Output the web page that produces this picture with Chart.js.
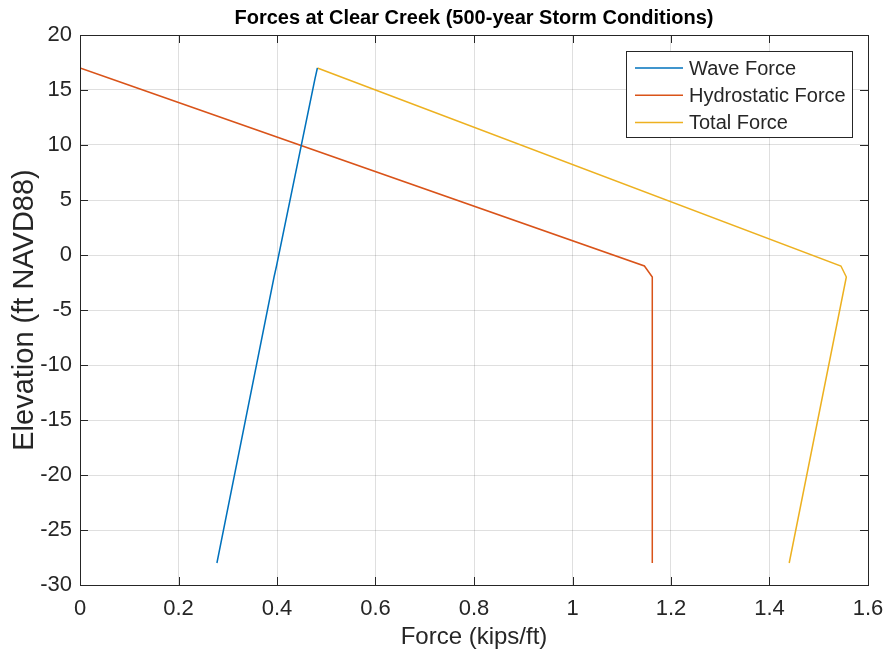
<!DOCTYPE html>
<html><head><meta charset="utf-8">
<script src="https://cdn.jsdelivr.net/npm/chart.js@4/dist/chart.umd.min.js"></script>
<style>html,body{margin:0;padding:0;background:#fff}#wrap{width:885px;height:658px}</style>
</head><body><div id="wrap"><canvas id="c" width="885" height="658"></canvas></div>
<script>
const elevation = [17, 16, -1, -2, -28];
const waveForce = [0.482, 0.477, 0.399, 0.394, 0.278];
const hydrostaticForce = [0, 0.064, 1.146, 1.162, 1.162];
const totalForce = [0.482, 0.541, 1.545, 1.556, 1.440];
const seriesNames = ['Wave Force', 'Hydrostatic Force', 'Total Force'];
const seriesColors = ['#0072BD', '#D95319', '#EDB120'];
const xTicks = [0, 0.2, 0.4, 0.6, 0.8, 1, 1.2, 1.4, 1.6];
const yTicks = [-30, -25, -20, -15, -10, -5, 0, 5, 10, 15, 20];
const titleText = 'Forces at Clear Creek (500-year Storm Conditions)';
const FONT = '"Liberation Sans", Arial, Helvetica, sans-serif';
const TXT = '#262626';

function pts(xs){ return xs.map((v,i)=>({x:v, y:elevation[i]})); }
const seriesVals = [waveForce, hydrostaticForce, totalForce];

const boxPlugin = {
  id:'box',
  afterDatasetsDraw(chart){
    const ctx = chart.ctx, a = chart.chartArea;
    const xs = chart.scales.x, ys = chart.scales.y;
    ctx.save();
    ctx.strokeStyle = '#262626';
    ctx.lineWidth = 1;
    const L = 8;
    ctx.beginPath();
    xTicks.forEach(t=>{
      const px = Math.round(xs.getPixelForValue(t))+0.5;
      ctx.moveTo(px, a.bottom); ctx.lineTo(px, a.bottom-L);
      ctx.moveTo(px, a.top); ctx.lineTo(px, a.top+L);
    });
    yTicks.forEach(t=>{
      const py = Math.round(ys.getPixelForValue(t))+0.5;
      ctx.moveTo(a.left, py); ctx.lineTo(a.left+L, py);
      ctx.moveTo(a.right, py); ctx.lineTo(a.right-L, py);
    });
    ctx.stroke();
    ctx.strokeRect(Math.round(a.left)+0.5, Math.round(a.top)+0.5, Math.round(a.right-a.left), Math.round(a.bottom-a.top));
    // title
    ctx.fillStyle = '#000';
    ctx.font = 'bold 20px ' + FONT;
    ctx.textAlign = 'center';
    ctx.textBaseline = 'middle';
    ctx.fillText(titleText, (a.left+a.right)/2, 18);
    // legend
    const lx = 626, ly = 51, lw = 226, lh = 86;
    ctx.fillStyle = '#fff';
    ctx.fillRect(lx, ly, lw, lh);
    ctx.strokeStyle = '#262626';
    ctx.strokeRect(lx+0.5, ly+0.5, lw, lh);
    ctx.font = '20px ' + FONT;
    ctx.textAlign = 'left';
    chart.data.datasets.forEach((ds,i)=>{
      const y = 68 + i*27.3;
      ctx.strokeStyle = ds.borderColor;
      ctx.lineWidth = 1.5;
      ctx.beginPath(); ctx.moveTo(635, y); ctx.lineTo(683, y); ctx.stroke();
      ctx.fillStyle = TXT;
      ctx.fillText(ds.label, 689, y+1);
    });
    ctx.restore();
  }
};

new Chart(document.getElementById('c'), {
  type:'scatter',
  data:{ datasets: seriesNames.map((n,i)=>({
    label:n, data:pts(seriesVals[i]), showLine:true, borderColor:seriesColors[i],
    backgroundColor:seriesColors[i], borderWidth:1.5, pointRadius:0, tension:0, fill:false
  }))},
  options:{
    responsive:false, animation:false,
    layout:{autoPadding:false, padding:{left:0, right:17, top:35, bottom:0}},
    plugins:{legend:{display:false}, title:{display:false}, tooltip:{enabled:false}},
    scales:{
      x:{ type:'linear', min:0, max:1.6,
        afterBuildTicks(s){ s.ticks = xTicks.map(v=>({value:v})); },
        afterFit(s){ s.height = 73; s.paddingLeft = 0; s.paddingRight = 0; },
        grid:{color:'rgba(38,38,38,0.15)', drawTicks:false},
        border:{display:false},
        ticks:{ font:{family:FONT, size:22}, color:TXT, padding:11, maxRotation:0,
          callback:v=>String(Math.round(v*10)/10) },
        title:{display:true, text:'Force (kips/ft)', font:{family:FONT, size:24}, color:TXT, padding:{top:6, bottom:6}}
      },
      y:{ type:'linear', min:-30, max:20,
        afterBuildTicks(s){ s.ticks = yTicks.map(v=>({value:v})); },
        afterFit(s){ s.width = 80; s.paddingTop = 0; s.paddingBottom = 0; },
        grid:{color:'rgba(38,38,38,0.15)', drawTicks:false},
        border:{display:false},
        ticks:{ font:{family:FONT, size:22}, color:TXT, padding:8 },
        title:{display:true, text:'Elevation (ft NAVD88)', font:{family:FONT, size:29}, color:TXT, padding:{top:8, bottom:8}}
      }
    }
  },
  plugins:[boxPlugin]
});
</script></body></html>
